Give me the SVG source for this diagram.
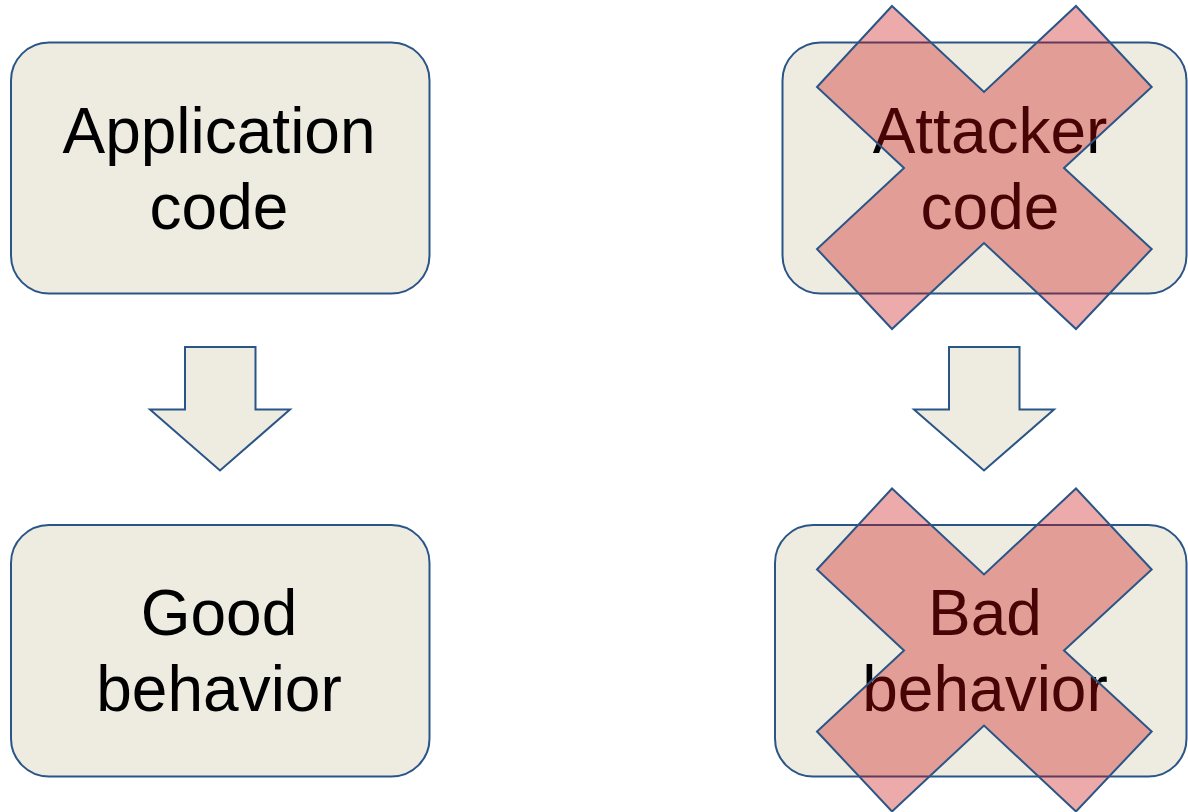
<svg xmlns="http://www.w3.org/2000/svg" width="1188" height="812" viewBox="0 0 1188 812">
<style>
.box{fill:#EEECE1;stroke:#2A5587;stroke-width:2}
.arr{fill:#EEECE1;stroke:#2A5587;stroke-width:2;stroke-linejoin:miter}
.x{fill:rgb(204,12,12);fill-opacity:0.35;stroke:#2A5587;stroke-width:2;stroke-linejoin:miter}
.t{font-family:"Liberation Sans",Arial,sans-serif;font-size:64px;fill:#000;text-anchor:middle}
</style>
<defs>
<polygon id="xshape" points="-92,-162 0,-76 92,-162 167.7,-81 80,0 167.7,81 92,161 0,75 -92,161 -167,81 -80,0 -167,-81"/>
</defs>
<rect width="1188" height="812" fill="#FFFFFF"/>
<g id="connectors">
<polygon class="arr" points="185,347 255.5,347 255.5,409.5 290,409.5 220,470.5 150,409.5 185,409.5"/>
<polygon class="arr" points="949,347 1019.5,347 1019.5,409.5 1054,409.5 984,470.5 914,409.5 949,409.5"/>
</g>
<g id="app-code">
<rect class="box" x="11" y="42.5" width="418.5" height="251" rx="38" ry="38"/>
<text class="t" x="219" y="153">Application</text>
<text class="t" x="219" y="229">code</text>
</g>
<g id="good-behavior">
<rect class="box" x="11" y="525" width="418.5" height="251.5" rx="38" ry="38"/>
<text class="t" x="219" y="635">Good</text>
<text class="t" x="219" y="711">behavior</text>
</g>
<g id="attacker-code">
<rect class="box" x="782.5" y="42.5" width="404" height="251" rx="38" ry="38"/>
<text class="t" x="990" y="153">Attacker</text>
<text class="t" x="990" y="229">code</text>
<use href="#xshape" class="x" x="984" y="168"/>
</g>
<g id="bad-behavior">
<rect class="box" x="775" y="525" width="411.5" height="251.5" rx="38" ry="38"/>
<text class="t" x="985" y="635">Bad</text>
<text class="t" x="985" y="711">behavior</text>
<use href="#xshape" class="x" x="984" y="650.5"/>
</g>
</svg>
